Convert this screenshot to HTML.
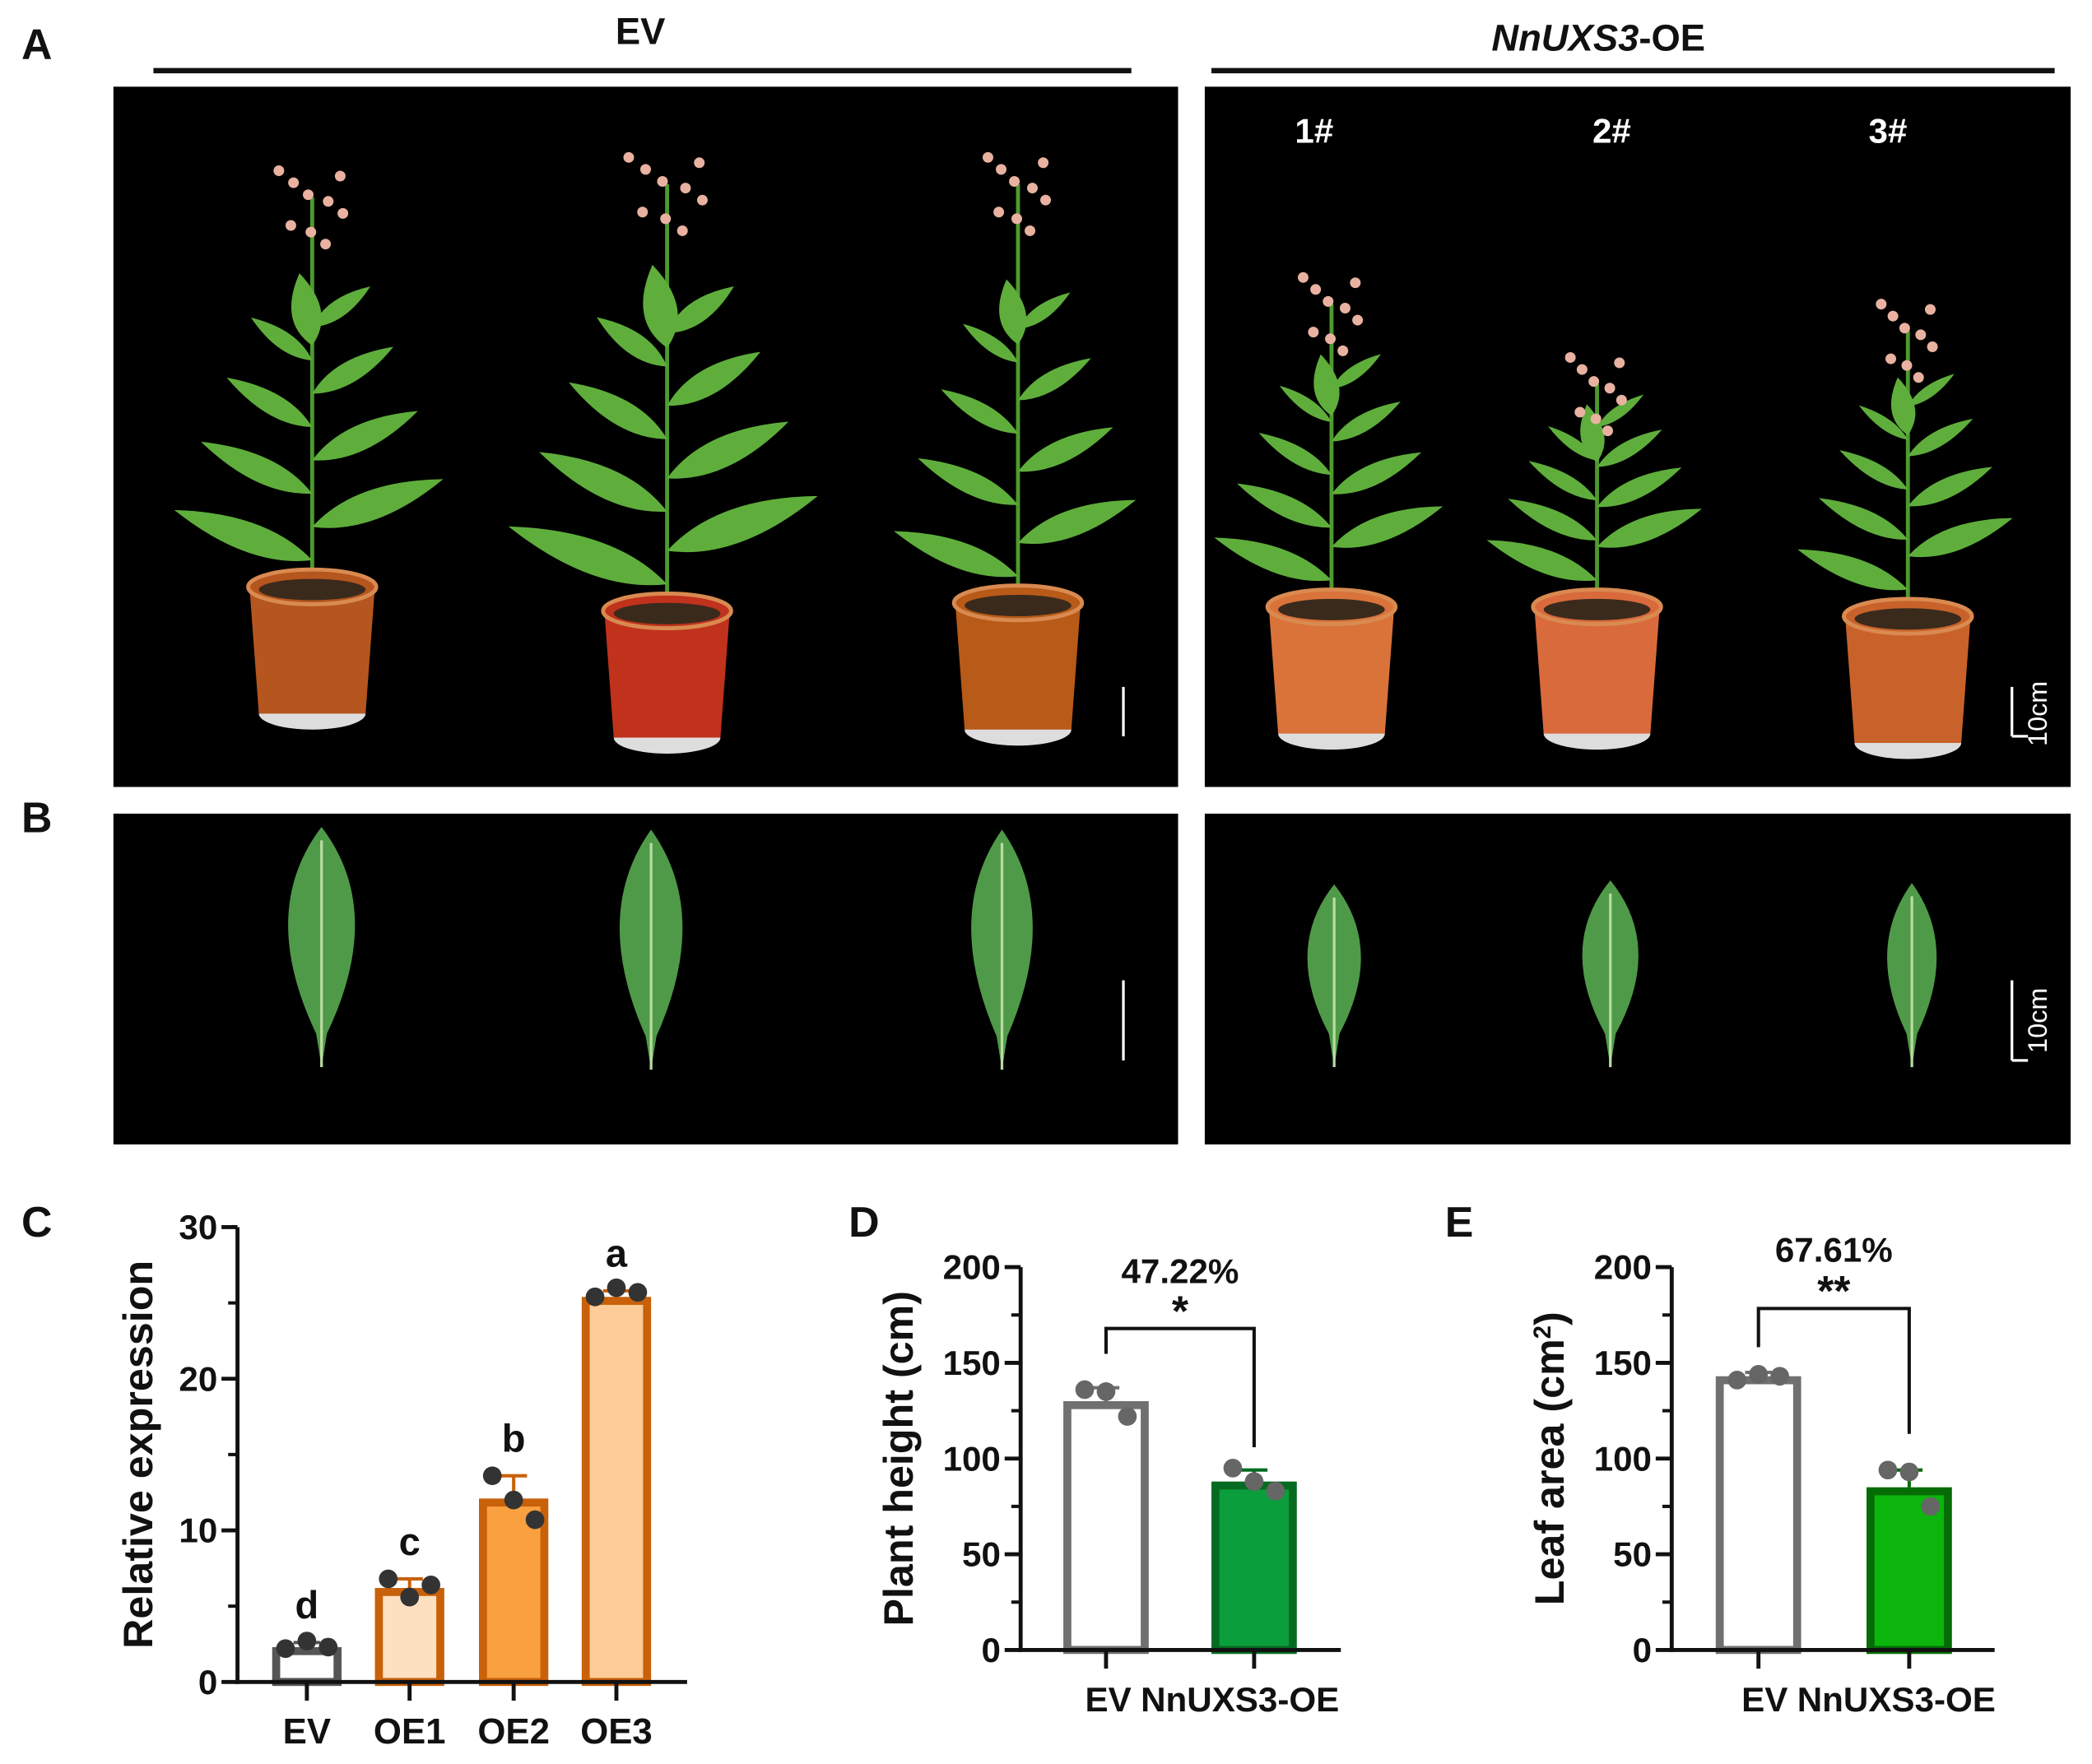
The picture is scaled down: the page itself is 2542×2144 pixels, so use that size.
<!DOCTYPE html>
<html><head><meta charset="utf-8"><style>
html,body{margin:0;padding:0;background:#fff;}
svg{display:block;}
text{font-family:"Liberation Sans",sans-serif;font-weight:bold;fill:#111;}
</style></head><body>
<svg id="fig" width="2542" height="2144" viewBox="0 0 1568 1322.5" xmlns="http://www.w3.org/2000/svg">
<g id="photos">
<text x="16" y="44" font-size="32">A</text>
<text x="480" y="33" font-size="28" text-anchor="middle">EV</text>
<line x1="115" y1="53" x2="848" y2="53" stroke="#111" stroke-width="4"/>
<text x="1198" y="38" font-size="28" text-anchor="middle"><tspan font-style="italic">NnUXS3</tspan>-OE</text>
<line x1="908" y1="53" x2="1540" y2="53" stroke="#111" stroke-width="4"/>
<rect x="85" y="65" width="798" height="525" fill="#000"/>
<rect x="903" y="65" width="649" height="525" fill="#000"/>
<text x="985" y="107" font-size="26" style="fill:#fff" text-anchor="middle">1#</text>
<text x="1208" y="107" font-size="26" style="fill:#fff" text-anchor="middle">2#</text>
<text x="1415" y="107" font-size="26" style="fill:#fff" text-anchor="middle">3#</text>
<line x1="842" y1="515" x2="842" y2="552" stroke="#fff" stroke-width="2"/>
<line x1="1508" y1="515" x2="1508" y2="552" stroke="#fff" stroke-width="2"/>
<line x1="1508" y1="552" x2="1520" y2="552" stroke="#fff" stroke-width="2"/>
<text transform="translate(1534,535) rotate(-90)" font-size="20" style="fill:#fff;font-weight:normal" text-anchor="middle">10cm</text>
<text x="16" y="624" font-size="32">B</text>
<rect x="85" y="610" width="798" height="248" fill="#000"/>
<rect x="903" y="610" width="649" height="248" fill="#000"/>
<line x1="842" y1="735" x2="842" y2="795" stroke="#fff" stroke-width="2"/>
<line x1="1508" y1="735" x2="1508" y2="795" stroke="#fff" stroke-width="2"/>
<line x1="1508" y1="795" x2="1520" y2="795" stroke="#fff" stroke-width="2"/>
<text transform="translate(1534,765) rotate(-90)" font-size="20" style="fill:#fff;font-weight:normal" text-anchor="middle">10cm</text>
<text x="16" y="927" font-size="32">C</text>
<text x="636" y="927" font-size="32">D</text>
<text x="1083" y="927" font-size="32">E</text>
</g>
<g id="charts"></g>
</svg>
<script>
// ---- Chart C data ----
const cCats = ["EV","OE1","OE2","OE3"];
const cMeans = [2.3, 6.2, 12.1, 25.4];
const cErr = [0.3, 0.6, 1.5, 0.4];
const cPts = [[2.2,2.7,2.3],[6.8,5.6,6.4],[13.6,12.0,10.7],[25.4,26.0,25.7]];
const cLetters = ["d","c","b","a"];
const cTicks = [0,10,20,30];
// ---- Chart D data ----
const dCats = ["EV","NnUXS3-OE"];
const dMeans = [130, 88];
const dErr = [7, 6];
const dPts = [[136,135,122],[95,88,83]];
const dTicks = [0,50,100,150,200];
// ---- Chart E data ----
const eCats = ["EV","NnUXS3-OE"];
const eMeans = [143, 85];
const eErr = [2, 9];
const ePts = [[141,144,143],[94,93,75]];
const eTicks = [0,50,100,150,200];

const NS="http://www.w3.org/2000/svg";
const charts=document.getElementById('charts');
function mk(tag,attrs,parent){const e=document.createElementNS(NS,tag);for(const k in attrs)e.setAttribute(k,attrs[k]);(parent||charts).appendChild(e);return e;}

// ---- plants (photo illustrations) ----
const photos=document.getElementById('photos');
function leaf(g,x,y,ang,len,w,col){
  return mk('path',{d:`M0 0 Q ${len*0.4} ${-w} ${len} 0 Q ${len*0.4} ${w} 0 0 Z`,fill:col||'#5fae3c',transform:`translate(${x},${y}) rotate(${ang})`},g);
}
function plant(cx,top,potTop,potCol,scale,name){
  const g=mk('g',{},photos);
  
  
  const h=potTop-top;
  mk('line',{x1:cx,y1:potTop+8,x2:cx,y2:top+20,stroke:'#4d9a2e','stroke-width':3},g);
  for(let i=0;i<4;i++){
    const y=potTop-20-i*h*0.16;
    const l=(110-i*18)*scale;
    leaf(g,cx,y,-160+i*5,l,22*scale-i*3);
    leaf(g,cx,y-25,-20-i*5,l*0.95,22*scale-i*3);
  }
  leaf(g,cx,top+h*0.42,-100,55*scale,22*scale);
  for(let i=0;i<9;i++){
    const fx=cx+((i*37)%50-25)*scale, fy=top+((i*23)%60);
    mk('circle',{cx:fx,cy:fy,r:4,fill:'#e9b2a0'},g);
  }
  mk('ellipse',{cx:cx,cy:potTop+95,rx:40,ry:12,fill:'#ddd'},g);
  mk('path',{d:`M${cx-47} ${potTop} L${cx+47} ${potTop} L${cx+40} ${potTop+95} L${cx-40} ${potTop+95} Z`,fill:potCol},g);
  mk('ellipse',{cx:cx,cy:potTop,rx:48,ry:13,fill:potCol,stroke:'#d98a50','stroke-width':3},g);
  mk('ellipse',{cx:cx,cy:potTop+2,rx:40,ry:8,fill:'#3a2a1c'},g);
}
plant(234,128,440,'#b5561e',1.0,'plant-ev-1');
plant(500,118,458,'#c0321c',1.15,'plant-ev-2');
plant(763,118,452,'#b85a18',0.9,'plant-ev-3');
plant(998,208,455,'#d9733a',0.85,'plant-oe-1');
plant(1197,268,455,'#d96a3c',0.8,'plant-oe-2');
plant(1430,228,462,'#c8622a',0.8,'plant-oe-3');
function bigLeaf(cx,top,bot,w,name){
  const e=mk('path',{d:`M${cx} ${top} Q ${cx+w} ${top+(bot-top)*0.35} ${cx+4} ${bot-25} L${cx} ${bot} L${cx-4} ${bot-25} Q ${cx-w} ${top+(bot-top)*0.35} ${cx} ${top} Z`,fill:'#4f9a48'},photos);
  
  
  mk('line',{x1:cx,y1:top+10,x2:cx,y2:bot,stroke:'#b9dca0','stroke-width':2},photos);
}
bigLeaf(241,620,800,48,'leaf-ev-1');
bigLeaf(488,622,802,45,'leaf-ev-2');
bigLeaf(751,622,802,44,'leaf-ev-3');
bigLeaf(1000,663,800,38,'leaf-oe-1');
bigLeaf(1207,660,800,40,'leaf-oe-2');
bigLeaf(1433,662,800,35,'leaf-oe-3');

// ---- generic bar chart ----
function barChart(o){
  const g=mk('g',{});
  
  
  const yv=v=>o.y0-(v-o.min)/(o.max-o.min)*(o.y0-o.y1);
  o.cats.forEach((c,i)=>{
    const cx=o.xs[i], top=yv(o.means[i]);
    const r=mk('rect',{x:cx-o.bw/2+o.sw/2,y:top+o.sw/2,width:o.bw-o.sw,height:o.y0-top-o.sw/2,fill:o.fills[i],stroke:o.strokes[i],'stroke-width':o.sw},g);
    
    
    const eb=mk('path',{d:`M${cx} ${top} V${yv(o.means[i]+o.err[i])} M${cx-10} ${yv(o.means[i]+o.err[i])} H${cx+10}`,stroke:o.strokes[i],'stroke-width':2.5,fill:'none'},g);
    
    
    o.pts[i].forEach((p,j)=>{
      const d=mk('circle',{cx:cx+(j-1)*16,cy:yv(p),r:7,fill:o.dot},g);
      
      
    });
    const t=mk('text',{x:cx+(o.xdx?o.xdx[i]:0),y:o.y0+o.xly,'font-size':o.cfs,'text-anchor':o.xanchor?o.xanchor[i]:'middle'},g);
    t.textContent=c;
    
    
    mk('line',{x1:cx,y1:o.y0,x2:cx,y2:o.y0+14,stroke:'#111','stroke-width':3},g);
    if(o.letters){
      const l=mk('text',{x:cx,y:yv(o.means[i]+o.err[i])-18,'font-size':29,'text-anchor':'middle'},g);
      l.textContent=o.letters[i];
      
      
    }
  });
  const ya=mk('line',{x1:o.ax,y1:o.y0+1.5,x2:o.ax,y2:o.y1,stroke:'#111','stroke-width':3},g);
  
  
  const xa=mk('line',{x1:o.ax-1.5,y1:o.y0,x2:o.xend,y2:o.y0,stroke:'#111','stroke-width':3},g);
  
  
  o.ticks.forEach((t,i)=>{
    const y=yv(t);
    mk('line',{x1:o.ax-12,y1:y,x2:o.ax,y2:y,stroke:'#111','stroke-width':3},g);
    const tl=mk('text',{x:o.ax-15,y:y+9,'font-size':26,'text-anchor':'end'},g);
    tl.textContent=t;
    
    
    if(i<o.ticks.length-1){
      const m=yv((t+o.ticks[i+1])/2);
      mk('line',{x1:o.ax-7,y1:m,x2:o.ax,y2:m,stroke:'#111','stroke-width':2.5},g);
    }
  });
  const yt=mk('text',{transform:`translate(${o.titleX},${(o.y0+o.y1)/2}) rotate(-90)`,'font-size':31,'text-anchor':'middle'},g);
  yt.innerHTML=o.title;
  
  
  if(o.sig){
    const a=o.xs[0],b=o.xs[1],yb=o.sig.y;
    const br=mk('path',{d:`M${a} ${o.sig.ya} V${yb} H${b} V${o.sig.yb}`,stroke:'#111','stroke-width':2.5,fill:'none'},g);
    
    
    const st=mk('text',{x:(a+b)/2,y:yb-2,'font-size':32,'text-anchor':'middle'},g);
    st.textContent=o.sig.star;
    
    
    const pt=mk('text',{x:(a+b)/2,y:o.sig.pctY,'font-size':26,'text-anchor':'middle'},g);
    pt.textContent=o.sig.pct;
    
    
  }
}
barChart({name:'chart-relative-expression',cats:cCats,means:cMeans,err:cErr,pts:cPts,letters:cLetters,ticks:cTicks,
  min:0,max:30,y0:1261,y1:920,ax:178,xend:515,xs:[230,307,385,462],bw:52,sw:6,
  fills:['#fff','#fde0c0','#f9a040','#fdcc98'],strokes:['#555','#c8610a','#c8610a','#c8610a'],dot:'#333',
  title:'Relative expression',titleX:114,cfs:27,xly:46});
barChart({name:'chart-plant-height',cats:dCats,means:dMeans,err:dErr,pts:dPts,ticks:dTicks,
  min:0,max:200,y0:1237,y1:950,ax:765,xend:1005,xs:[829,940],bw:64,sw:6,
  fills:['#fff','#0b9e3c'],strokes:['#707070','#066b22'],dot:'#666',
  title:'Plant height (cm)',titleX:684,cfs:26,xly:46,xanchor:['end','start'],xdx:[19,-85],
  sig:{y:996,ya:1015,yb:1085,star:'*',pct:'47.22%',pctY:962}});
barChart({name:'chart-leaf-area',cats:eCats,means:eMeans,err:eErr,pts:ePts,ticks:eTicks,
  min:0,max:200,y0:1237,y1:950,ax:1253,xend:1495,xs:[1318,1431],bw:64,sw:6,
  fills:['#fff','#0bb50b'],strokes:['#707070','#056b05'],dot:'#666',
  title:'Leaf area (cm<tspan font-size="18" dy="-10">2</tspan><tspan dy="10">)</tspan>',titleX:1172,cfs:26,xly:46,xanchor:['end','start'],xdx:[22,-84],
  sig:{y:981,ya:1010,yb:1075,star:'**',pct:'67.61%',pctY:946}});
</script>
</body></html>
